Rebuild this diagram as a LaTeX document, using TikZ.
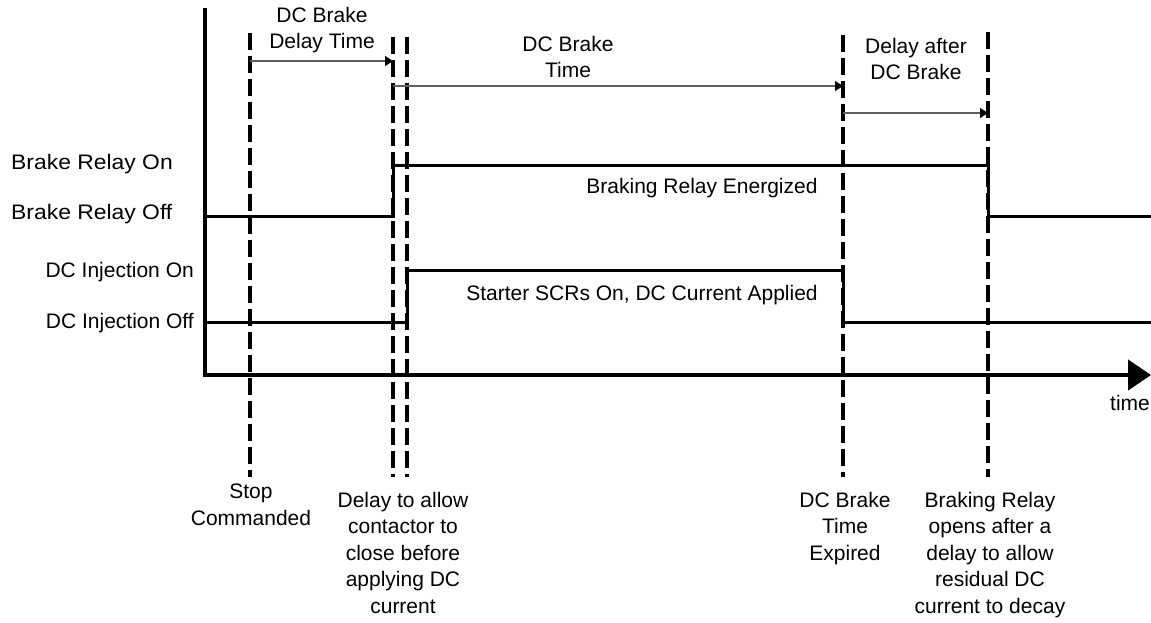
\documentclass[tikz,border=0pt]{standalone}
\usepackage{fontspec}
\setmainfont{Liberation Sans}
\usepackage{xcolor}
\usepackage{tikz}
\usetikzlibrary{arrows.meta, positioning, calc}
\definecolor{spangray}{RGB}{95,95,95}

\begin{document}
\begin{tikzpicture}[
        x=1pt, y=-1pt,
        font=\fontsize{21}{26.5}\selectfont,
        % Styles for the axes and traces
        axis/.style={
            line width=4.5pt
        },
        axisarrow/.style={
            -{Triangle[length=23pt, width=30pt]}
        },
        signal/.style={
            line width=3pt
        },
        marker/.style={
            line width=3.5pt, dash pattern=on 17pt off 6pt
        },
        % Style for the time span arrows
        span/.style={
            draw=spangray, line width=1.2pt,
            -{Triangle[length=8pt, width=10pt, color=black]}
        },
        % Styles for text
        level/.style={
            inner sep=0pt
        },
        widelevel/.style={
            inner sep=0pt, xscale=1.09, transform shape
        },
        note/.style={
            align=center, anchor=north, inner sep=0pt
        },
        spanlabel/.style={
            align=center, inner sep=0pt
        }
    ]
    \useasboundingbox (0,0) rectangle (1151,623);

    % 1. AXES
    \coordinate (Ytop) at (205,8);
    \coordinate (O)    at (205,375);
    \coordinate (Xend) at (1151,375);

    \draw[axis, axisarrow] (Ytop) -- (O) -- (Xend);
    \node (time) at (1130,403) {time};

    % 2. EVENT MARKERS
    \coordinate (mStopTop)   at (250,33);
    \coordinate (mStopBot)   at (250,477);
    \coordinate (mCloseTop)  at (393,37);
    \coordinate (mCloseBot)  at (393,477);
    \coordinate (mApplyTop)  at (407,37);
    \coordinate (mApplyBot)  at (407,477);
    \coordinate (mExpireTop) at (843,35);
    \coordinate (mExpireBot) at (843,477);
    \coordinate (mOpenTop)   at (988,32);
    \coordinate (mOpenBot)   at (988,477);

    \draw[marker] (mStopTop)   -- (mStopBot);
    \draw[marker] (mCloseTop)  -- (mCloseBot);
    \draw[marker] (mApplyTop)  -- (mApplyBot);
    \draw[marker] (mExpireTop) -- (mExpireBot);
    \draw[marker] (mOpenTop)   -- (mOpenBot);

    % 3. SIGNAL LEVELS
    \coordinate (BRon)  at (205,165);
    \coordinate (BRoff) at (205,216);
    \coordinate (DCon)  at (205,270);
    \coordinate (DCoff) at (205,322);

    \node[widelevel, anchor=west] (lBRon)  at (11,164)  {Brake Relay On};
    \node[widelevel, anchor=west] (lBRoff) at (11,214)  {Brake Relay Off};
    \node[level, anchor=east]     (lDCon)  at (194,272) {DC Injection On};
    \node[level, anchor=east]     (lDCoff) at (194,323) {DC Injection Off};

    % Brake relay trace
    \draw[signal] (BRoff) -- (BRoff -| mCloseTop) -- (BRon -| mCloseTop)
        -- (BRon -| mOpenTop) -- (BRoff -| mOpenTop) -- (BRoff -| Xend);

    % DC injection trace
    \draw[signal] (DCoff) -- (DCoff -| mApplyTop) -- (DCon -| mApplyTop)
        -- (DCon -| mExpireTop) -- (DCoff -| mExpireTop) -- (DCoff -| Xend);

    \node (relayTxt) at (702,188) {Braking Relay Energized};
    \node (scrTxt)   at (642,295) {Starter SCRs On, DC Current Applied};

    % 4. TIME SPANS
    \coordinate (spanDelay)  at (0,61);
    \coordinate (spanBrake)  at (0,86);
    \coordinate (spanAfter)  at (0,113);

    \draw[span] (mStopTop |- spanDelay)   -- (mCloseTop |- spanDelay);
    \draw[span] (mCloseTop |- spanBrake)  -- (mExpireTop |- spanBrake);
    \draw[span] (mExpireTop |- spanAfter) -- (mOpenTop |- spanAfter);

    \node[spanlabel] (tDelay) at (322,30) {DC Brake\\Delay Time};
    \node[spanlabel] (tBrake) at (568,57) {DC Brake\\Time};
    \node[spanlabel] (tAfter) at (916,59) {Delay after\\DC Brake};

    % 5. EVENT NOTES
    \node[note] (nStop)   at (251,484) {Stop\\Commanded};
    \node[note] (nClose)  at (403,492) {Delay to allow\\contactor to\\close before\\applying DC\\current};
    \node[note] (nExpire) at (845,492) {DC Brake\\Time\\Expired};
    \node[note] (nOpen)   at (990,492) {Braking Relay\\opens after a\\delay to allow\\residual DC\\current to decay};

\end{tikzpicture}
\end{document}
